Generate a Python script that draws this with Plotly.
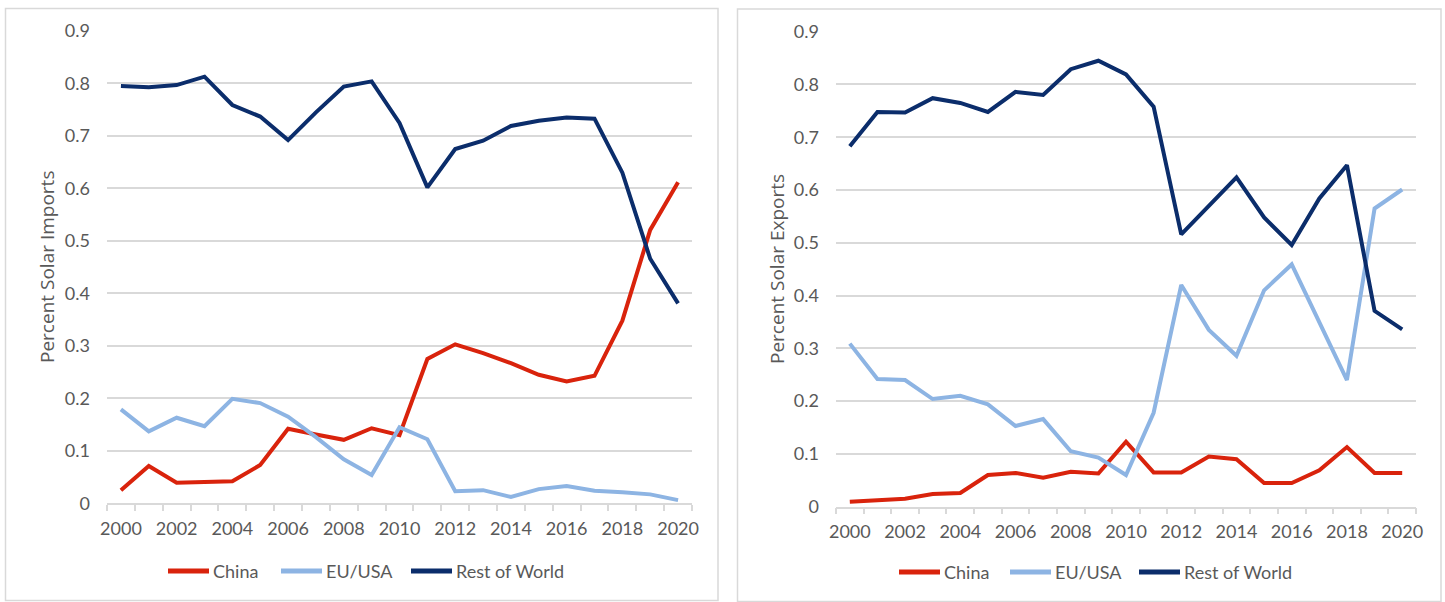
import plotly.graph_objects as go

# Shares of solar trade by region, 2000-2020
years = list(range(2000, 2021))
series_names = ["China", "EU/USA", "Rest of World"]
series_colors = ["#d9230c", "#8db4e3", "#0b2d6b"]

imports_china = [0.025, 0.071, 0.039, 0.041, 0.042, 0.073, 0.142, 0.131, 0.121, 0.143, 0.130,
                 0.275, 0.303, 0.286, 0.267, 0.245, 0.232, 0.243, 0.348, 0.521, 0.612]
imports_euusa = [0.179, 0.137, 0.163, 0.147, 0.199, 0.191, 0.165, 0.126, 0.084, 0.054, 0.145,
                 0.122, 0.023, 0.025, 0.012, 0.027, 0.033, 0.024, 0.021, 0.017, 0.006]
imports_row = [0.795, 0.793, 0.797, 0.813, 0.759, 0.737, 0.692, 0.745, 0.794, 0.804, 0.725,
               0.602, 0.675, 0.691, 0.719, 0.729, 0.735, 0.733, 0.630, 0.466, 0.381]

exports_china = [0.0095, 0.0125, 0.015, 0.024, 0.026, 0.060, 0.064, 0.055, 0.066, 0.063, 0.123,
                 0.065, 0.065, 0.095, 0.090, 0.045, 0.045, 0.069, 0.113, 0.064, 0.064]
exports_euusa = [0.309, 0.242, 0.240, 0.204, 0.210, 0.194, 0.153, 0.166, 0.105, 0.093, 0.060,
                 0.178, 0.420, 0.335, 0.286, 0.410, 0.459, 0.350, 0.240, 0.565, 0.601]
exports_row = [0.683, 0.748, 0.747, 0.774, 0.765, 0.748, 0.786, 0.780, 0.829, 0.845, 0.819,
               0.758, 0.516, 0.570, 0.624, 0.548, 0.496, 0.584, 0.647, 0.371, 0.336]

y_title_left = "Percent Solar Imports"
y_title_right = "Percent Solar Exports"
x_tick_years = list(range(2000, 2021, 2))

W, H = 1445, 602
GRID = "#d9d9d9"
TEXT = "#595959"
FONT = "Lato"
LINE_W = 4


def px_x(p):
    return p / W


def px_y(p):
    return 1 - p / H


fig = go.Figure()

panels = [
    ("x", "y", [imports_china, imports_euusa, imports_row]),
    ("x2", "y2", [exports_china, exports_euusa, exports_row]),
]
for xa, ya, values in panels:
    for name, color, vals in zip(series_names, series_colors, values):
        fig.add_trace(go.Scatter(
            x=years, y=vals, name=name, mode="lines",
            line=dict(color=color, width=LINE_W),
            xaxis=xa, yaxis=ya, showlegend=False,
        ))

xaxis_common = dict(
    range=[1999.5, 2020.5], tickmode="array", tickvals=x_tick_years,
    ticks="", showgrid=False, zeroline=False, automargin=False,
    showline=True, linecolor=GRID, linewidth=1.5,
    tickfont=dict(family=FONT, size=18, color=TEXT),
    ticklabelstandoff=8,
    minor=dict(tickmode="linear", tick0=1999.5, dtick=1, ticks="outside",
               ticklen=6, tickcolor=GRID, tickwidth=1.5, showgrid=False),
    fixedrange=True,
)
yaxis_common = dict(
    range=[0, 0.9], dtick=0.1, tick0=0, ticks="",
    showgrid=True, gridcolor=GRID, gridwidth=1.5, zeroline=False,
    showline=False, automargin=False,
    tickfont=dict(family=FONT, size=18, color=TEXT),
    ticklabelstandoff=16, fixedrange=True,
)

fig.update_layout(
    width=W, height=H, autosize=False,
    margin=dict(l=0, r=0, t=0, b=0, pad=0, autoexpand=False),
    paper_bgcolor="white", plot_bgcolor="white",
    xaxis=dict(domain=[px_x(107), px_x(692)], anchor="y", **xaxis_common),
    yaxis=dict(domain=[px_y(503.3), px_y(31)], anchor="x", **yaxis_common),
    xaxis2=dict(domain=[px_x(836), px_x(1416)], anchor="y2", **xaxis_common),
    yaxis2=dict(domain=[px_y(506.7), px_y(31.7)], anchor="x2", **yaxis_common),
    showlegend=False,
)

# Chart-area borders around each panel
fig.add_shape(type="rect", xref="paper", yref="paper",
              x0=px_x(5.5), x1=px_x(718), y0=px_y(600.5), y1=px_y(8.5),
              line=dict(color=GRID, width=1.5), layer="below")
fig.add_shape(type="rect", xref="paper", yref="paper",
              x0=px_x(737.5), x1=px_x(1441), y0=px_y(601.5), y1=px_y(9),
              line=dict(color=GRID, width=1.5), layer="below")

# Y-axis titles
for title, xc, yc in [(y_title_left, 47, 267), (y_title_right, 777, 269)]:
    fig.add_annotation(text=title, xref="paper", yref="paper",
                       x=px_x(xc), y=px_y(yc), xanchor="center", yanchor="middle",
                       textangle=-90, showarrow=False,
                       font=dict(family="Open Sans", size=19, color=TEXT))

# Legend rows under each panel: key line start (px) and row height (px)
legend_rows = [
    ([168, 281, 411], 571),
    ([899, 1010, 1139], 572),
]
KEY_LEN = 41
for starts, ly in legend_rows:
    for name, color, x0 in zip(series_names, series_colors, starts):
        fig.add_shape(type="line", xref="paper", yref="paper",
                      x0=px_x(x0), x1=px_x(x0 + KEY_LEN), y0=px_y(ly), y1=px_y(ly),
                      line=dict(color=color, width=LINE_W + 1))
        fig.add_annotation(text=name, xref="paper", yref="paper",
                           x=px_x(x0 + KEY_LEN + 2), y=px_y(ly),
                           xanchor="left", yanchor="middle", showarrow=False,
                           font=dict(family=FONT, size=18, color=TEXT))

page_js = ("document.body.style.margin='0';document.body.style.padding='0';"
           "document.documentElement.style.overflow='hidden';")
fig.write_html("out.html", post_script=page_js)
